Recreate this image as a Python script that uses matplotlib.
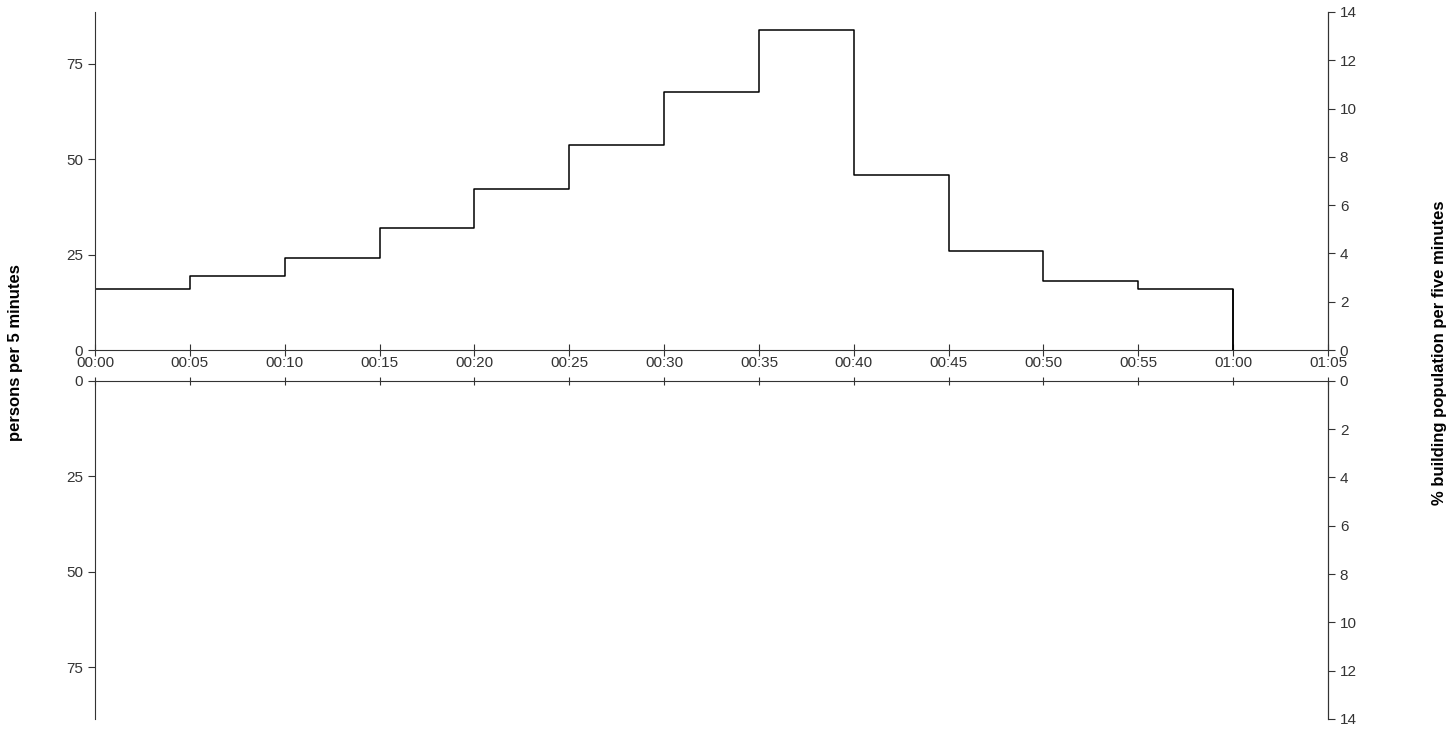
import numpy as np
import matplotlib.pyplot as plt

plt.rcParams['font.family'] = ['Liberation Sans', 'DejaVu Sans']

# departure flow per 5-minute interval (persons)
minutes = [0, 5, 10, 15, 20, 25, 30, 35, 40, 45, 50, 55, 60]
persons = [16, 19.4, 24, 32, 42.2, 53.8, 67.7, 83.9, 45.9, 26, 18.1, 16, 0]
tick_minutes = list(range(0, 66, 5))
tick_labels = ['%02d:%02d' % (m // 60, m % 60) for m in tick_minutes]
left_ticks = [0, 25, 50, 75]
right_ticks = [0, 2, 4, 6, 8, 10, 12, 14]
ymax = 88.6
pct_max = 14

fig = plt.figure(figsize=(14.53, 7.35), dpi=100)
ax = fig.add_axes([0.0654, 0.5238, 0.8486, 0.46])
ax2 = fig.add_axes([0.0654, 0.0218, 0.8486, 0.46])

ax.step(minutes, persons, where='post', color='black', lw=1.1)
ax.vlines(minutes[-1], 0, persons[-2], color='black', lw=1.1)

for a in (ax, ax2):
    a.set_xlim(0, 65)
    a.set_yticks(left_ticks)
    a.tick_params(axis='y', direction='out', length=5, labelsize=11, colors='#333333')
    a.spines['left'].set_color('#333333')
    a.spines['right'].set_color('#333333')

ax.set_ylim(0, ymax)
ax.set_xticks(tick_minutes)
ax.set_xticklabels(tick_labels)
ax.tick_params(axis='x', direction='inout', length=8, labelsize=11, pad=0, colors='#333333')
ax.spines['top'].set_visible(False)
ax.spines['bottom'].set_color('#333333')

ax2.set_ylim(ymax, 0)
ax2.set_xticks(tick_minutes)
ax2.tick_params(axis='x', direction='inout', length=6, labelbottom=False, bottom=False, top=True, colors='#333333')
ax2.spines['bottom'].set_visible(False)
ax2.spines['top'].set_color('#333333')

for a, lim in ((ax, (0, pct_max)), (ax2, (pct_max, 0))):
    r = a.twinx()
    r.set_ylim(*lim)
    r.set_yticks(right_ticks)
    r.tick_params(axis='y', direction='out', length=5, labelsize=11, colors='#333333')
    r.spines['top'].set_visible(False)
    r.spines['bottom'].set_visible(False)
    r.spines['left'].set_visible(False)
    r.spines['right'].set_color('#333333')

fig.text(0.011, 0.52, 'persons per 5 minutes', rotation=90, va='center', ha='center',
         fontsize=12, fontweight='bold')
fig.text(0.991, 0.52, '% building population per five minutes', rotation=90, va='center', ha='center',
         fontsize=12, fontweight='bold')

fig.savefig('out.png', dpi=100)
